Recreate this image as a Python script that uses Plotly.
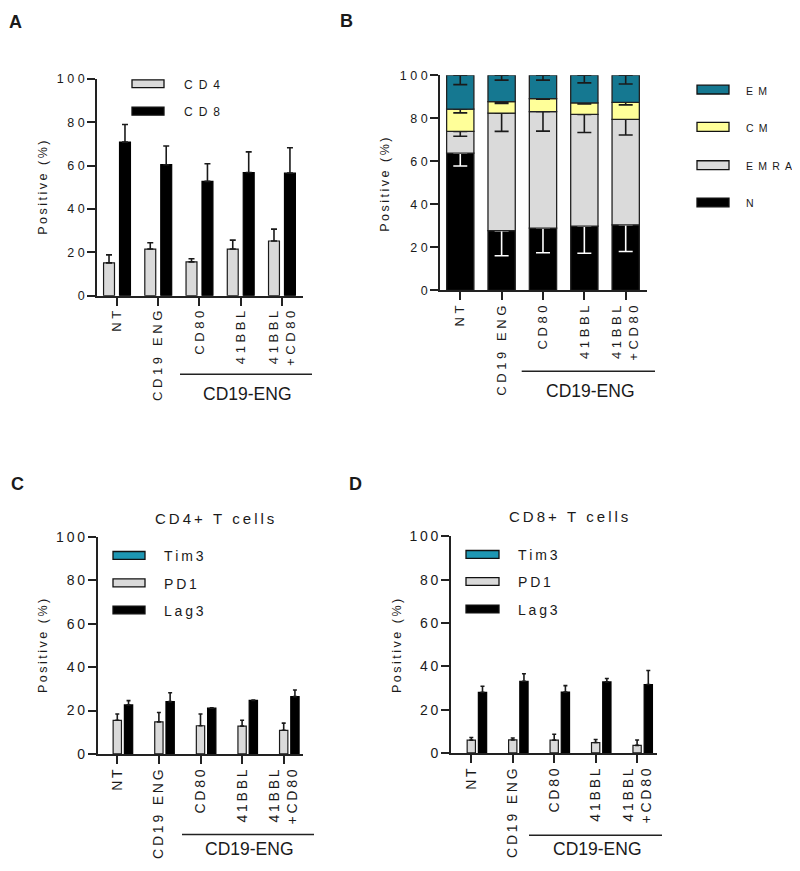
import plotly.graph_objects as go

# Page body has an 8px margin; the figure is sized to fit the 800x871 window exactly.
PAGE_W, PAGE_H = 800, 871
OFF = 8
W, H = PAGE_W - 2 * OFF, PAGE_H - 2 * OFF

# ---------------- data ----------------
categories = ["NT", "CD19 ENG", "CD80", "41BBL", "41BBL<br>+CD80"]
group_label = "CD19-ENG"
y_title = "Positive (%)"
y_ticks = [0, 20, 40, 60, 80, 100]
panel_letters = ["A", "B", "C", "D"]

# Panel A
a_series = ["CD4", "CD8"]
a_cd4 = [15.1, 21.5, 15.6, 21.5, 25.2]
a_cd4_err = [3.7, 2.9, 1.4, 4.1, 5.5]
a_cd8 = [70.8, 60.4, 52.7, 56.8, 56.5]
a_cd8_err = [8.1, 8.6, 8.1, 9.5, 11.7]

# Panel B (segment sizes, bottom to top)
b_series = ["N", "EMRA", "CM", "EM"]
b_n = [63.8, 27.8, 29.0, 29.9, 30.5]
b_n_err = [6.0, 11.7, 11.5, 12.6, 12.4]
b_emra = [10.1, 54.6, 54.1, 51.9, 49.0]
b_emra_err = [2.3, 8.5, 9.1, 8.4, 7.3]
b_cm = [10.3, 5.3, 6.0, 5.3, 7.9]
b_cm_err = [1.7, 0.8, 0.3, 0.5, 1.2]
b_em = [15.8, 12.3, 10.9, 12.9, 12.6]
b_em_err = [4.4, 2.3, 2.3, 3.6, 4.1]

# Panels C / D
cd_series = ["Tim3", "PD1", "Lag3"]
c_title = "CD4+ T cells"
c_tim3 = [None, None, None, None, None]
c_pd1 = [15.5, 14.8, 13.0, 12.8, 10.9]
c_pd1_err = [2.9, 4.3, 5.4, 2.7, 3.3]
c_lag3 = [22.6, 24.1, 21.1, 24.7, 26.4]
c_lag3_err = [2.0, 4.1, 0.2, 0.2, 3.1]

d_title = "CD8+ T cells"
d_tim3 = [None, None, None, None, None]
d_pd1 = [5.9, 6.0, 5.9, 4.8, 3.5]
d_pd1_err = [1.2, 0.9, 2.7, 1.4, 2.5]
d_lag3 = [28.0, 33.1, 28.1, 32.8, 31.6]
d_lag3_err = [2.8, 3.5, 3.0, 1.6, 6.5]

# ---------------- styling ----------------
FONT = "Liberation Sans, Arial, sans-serif"
INK = "#1a1a1a"
TEAL = "#157891"
TEAL2 = "#1e97b3"
YELLOW = "#ffff99"
GRAY = "#dadada"
BLACK = "#000000"
NB = "\u00a0"
THIN = "\u2009"
EN = "\u2002"


def spaced(text, sep):
    return "<br>".join(sep.join(line.replace(" ", NB)) for line in text.split("<br>"))


def px(x):
    return (x - OFF) / W


def py(y):
    return 1 - (y - OFF) / H


panels = {
    "A": dict(x=(97, 303), y=(72, 293), rng=(-0.485, 4.51), xa="x", ya="y",
              tfs=12.5, tsep=NB, xfs=13, xsep=NB),
    "B": dict(x=(440, 647), y=(68.3, 287.7), rng=(-0.49, 4.515), xa="x2", ya="y2",
              tfs=12.5, tsep=NB, xfs=13, xsep=NB),
    "C": dict(x=(97.7, 303), y=(539, 760), rng=(-0.471, 4.464), xa="x3", ya="y3",
              tfs=14, tsep=THIN, xfs=14, xsep=THIN),
    "D": dict(x=(451, 657), y=(538.3, 759), rng=(-0.49, 4.48), xa="x4", ya="y4",
              tfs=14, tsep=THIN, xfs=14, xsep=THIN),
}

fig = go.Figure()


def xcats(p):
    return [spaced(c, p["xsep"]) for c in categories]


def err(arr, color=INK, width=3, down=False):
    zeros = [0] * len(arr)
    if down:
        return dict(type="data", symmetric=False, array=zeros, arrayminus=arr,
                    color=color, thickness=1.6, width=width)
    return dict(type="data", symmetric=False, array=arr, arrayminus=zeros,
                color=color, thickness=1.6, width=width)


# Panel A
pA = panels["A"]
fig.add_trace(go.Bar(x=xcats(pA), y=a_cd4, name=a_series[0], width=0.265, offset=-0.326,
                     marker=dict(color=GRAY, line=dict(color=INK, width=1.2)),
                     error_y=err(a_cd4_err), xaxis=pA["xa"], yaxis=pA["ya"], showlegend=False))
fig.add_trace(go.Bar(x=xcats(pA), y=a_cd8, name=a_series[1], width=0.265, offset=0.061,
                     marker=dict(color=BLACK, line=dict(color=BLACK, width=1.2)),
                     error_y=err(a_cd8_err), xaxis=pA["xa"], yaxis=pA["ya"], showlegend=False))

# Panel B (stacked via base)
pB = panels["B"]
b_vals = [b_n, b_emra, b_cm, b_em]
b_errs = [b_n_err, b_emra_err, b_cm_err, b_em_err]
b_colors = [BLACK, GRAY, YELLOW, TEAL]
b_errcol = ["#ffffff", INK, INK, INK]
base = [0.0] * len(categories)
for name, vals, e, col, ec in zip(b_series, b_vals, b_errs, b_colors, b_errcol):
    fig.add_trace(go.Bar(x=xcats(pB), y=vals, base=list(base), name=name, width=0.66, offset=-0.33,
                         marker=dict(color=col, line=dict(color="#222222", width=1.3)),
                         error_y=err(e, color=ec, width=7, down=True),
                         xaxis=pB["xa"], yaxis=pB["ya"], showlegend=False))
    base = [b + v for b, v in zip(base, vals)]

# Panels C, D
for key, tim3, pd1, pd1e, lag3, lag3e in [("C", c_tim3, c_pd1, c_pd1_err, c_lag3, c_lag3_err),
                                          ("D", d_tim3, d_pd1, d_pd1_err, d_lag3, d_lag3_err)]:
    p = panels[key]
    fig.add_trace(go.Bar(x=xcats(p), y=tim3, name=cd_series[0], width=0.2, offset=-0.37,
                         marker=dict(color=TEAL2, line=dict(color=INK, width=1.2)),
                         xaxis=p["xa"], yaxis=p["ya"], showlegend=False))
    fig.add_trace(go.Bar(x=xcats(p), y=pd1, name=cd_series[1], width=0.2, offset=-0.1,
                         marker=dict(color=GRAY, line=dict(color=INK, width=1.2)),
                         error_y=err(pd1e, width=2), xaxis=p["xa"], yaxis=p["ya"], showlegend=False))
    fig.add_trace(go.Bar(x=xcats(p), y=lag3, name=cd_series[2], width=0.2, offset=0.17,
                         marker=dict(color=BLACK, line=dict(color=BLACK, width=1.2)),
                         error_y=err(lag3e, width=2), xaxis=p["xa"], yaxis=p["ya"], showlegend=False))

# ---------------- axes ----------------
layout = dict(
    width=W, height=H, margin=dict(l=0, r=0, t=0, b=0),
    paper_bgcolor="white", plot_bgcolor="white",
    barmode="overlay", showlegend=False,
    font=dict(family=FONT, color=INK),
)
for i, key in enumerate(["A", "B", "C", "D"]):
    p = panels[key]
    sfx = "" if i == 0 else str(i + 1)
    common = dict(showline=True, linecolor="#222222", linewidth=1.7, ticks="outside",
                  ticklen=8, tickwidth=1.6, tickcolor="#222222", showgrid=False,
                  zeroline=False, fixedrange=True)
    layout["xaxis" + sfx] = dict(common, domain=[px(p["x"][0]), px(p["x"][1])],
                                 anchor="y" + sfx, range=list(p["rng"]), type="category",
                                 tickangle=-90, tickfont=dict(size=p["xfs"], family=FONT, color=INK))
    layout["yaxis" + sfx] = dict(common, domain=[py(p["y"][1]), py(p["y"][0])],
                                 anchor="x" + sfx, range=[0, 100],
                                 tickvals=y_ticks, ticktext=[spaced(str(t), p["tsep"]) for t in y_ticks],
                                 tickfont=dict(size=p["tfs"], family=FONT, color=INK))

shapes = []
annotations = []


def text(x, y, s, size, xanchor="center", yanchor="middle", angle=0, bold=False):
    annotations.append(dict(x=px(x), y=py(y), xref="paper", yref="paper", text=s, showarrow=False,
                            xanchor=xanchor, yanchor=yanchor, textangle=angle,
                            font=dict(family=FONT, size=size, color=INK,
                                      weight="bold" if bold else "normal")))


def patch(x0, x1, yc, h, color):
    shapes.append(dict(type="rect", xref="paper", yref="paper", x0=px(x0), x1=px(x1),
                       y0=py(yc + h / 2), y1=py(yc - h / 2), fillcolor=color,
                       line=dict(color="#111111", width=1.3)))


def hline(x0, x1, y):
    shapes.append(dict(type="line", xref="paper", yref="paper", x0=px(x0), x1=px(x1),
                       y0=py(y), y1=py(y), line=dict(color="#222222", width=1.5)))


# panel letters
for letter, (lx, ly) in zip(panel_letters, [(16, 14), (346, 13), (17, 485), (355, 485)]):
    text(lx, ly, letter, 18, bold=True)

# y titles
for (tx, ty) in [(43, 183), (385, 180), (43, 650), (397, 650)]:
    text(tx, ty, spaced(y_title, THIN), 12.5, angle=-90)

# group lines + labels
for (x0, x1, ly, tx, ty) in [(180, 312, 373, 247, 393), (521.7, 655, 370, 590, 390),
                             (182, 314, 842, 249, 857), (529, 662, 843, 597, 857)]:
    hline(x0, x1, ly)
    text(tx, ty, group_label, 17.5)

# panel titles C/D
text(214, 520, spaced(c_title, THIN), 15)
text(568, 518, spaced(d_title, THIN), 15)

# legend A
for name, col, yc in zip(a_series, [GRAY, BLACK], [77, 105]):
    patch(132, 164, yc, 8, col)
    text(182, yc + 1, spaced(name, EN), 12, xanchor="left")

# legend B (top to bottom: EM, CM, EMRA, N)
for name, col, yc in zip(b_series[::-1], b_colors[::-1], [83, 121, 160, 198]):
    patch(697, 729, yc, 9, col)
    text(744, yc + 1, spaced(name, EN), 10.5, xanchor="left")

# legends C/D
for (x0, x1, lx, ys) in [(113, 145, 162, [557.7, 585.7, 613.3]), (466, 499, 516, [556.7, 584.3, 612.3])]:
    for name, col, yc in zip(cd_series, [TEAL2, GRAY, BLACK], ys):
        patch(x0, x1, yc, 8, col)
        text(lx, yc + 1, spaced(name, THIN), 14, xanchor="left")

layout["shapes"] = shapes
layout["annotations"] = annotations
fig.update_layout(**layout)

fig.write_html("out.html")
